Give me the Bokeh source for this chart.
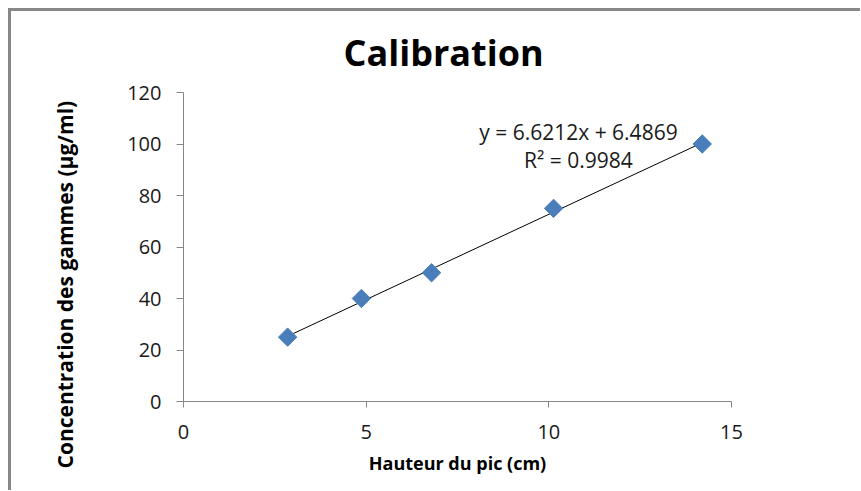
from bokeh.plotting import figure
from bokeh.models import Range1d, FixedTicker, Label, Title
from bokeh.embed import file_html
from bokeh.resources import INLINE

# Data
hauteur_cm = [2.85, 4.87, 6.79, 10.13, 14.2]
concentration = [25, 40, 50, 75, 100]
slope = 6.6212
intercept = 6.4869
equation_lines = ["y = 6.6212x + 6.4869", "R\u00b2 = 0.9984"]
x_ticks = [0, 5, 10, 15]
y_ticks = [0, 20, 40, 60, 80, 100, 120]

FONT = "Open Sans"

p = figure(width=860, height=490, output_backend="svg", toolbar_location=None,
           x_range=Range1d(0, 15), y_range=Range1d(0, 120),
           min_border_left=183, min_border_right=129,
           min_border_top=92, min_border_bottom=89)
p.styles = {
    "background": ("linear-gradient(#878787, #878787) 8px 8px / calc(100% - 8px) 3px no-repeat, "
                   "linear-gradient(#878787, #878787) 8px 8px / 3px calc(100% - 8px) no-repeat, "
                   "white"),
}
p.outline_line_color = None
p.xgrid.visible = False
p.ygrid.visible = False
p.background_fill_color = "white"
p.border_fill_color = None

for ax in (p.xaxis[0], p.yaxis[0]):
    ax.axis_line_color = "#868686"
    ax.major_tick_line_color = "#868686"
    ax.minor_tick_line_color = None
    ax.major_tick_in = 0
    ax.major_tick_out = 6
    ax.major_label_text_font = FONT
    ax.major_label_text_font_size = "20px"
    ax.major_label_text_color = "#1a1a1a"

p.xaxis[0].ticker = FixedTicker(ticks=x_ticks)
p.yaxis[0].ticker = FixedTicker(ticks=y_ticks)
p.yaxis[0].major_tick_out = 7
p.xaxis[0].major_label_standoff = 17
p.yaxis[0].major_label_standoff = 15

p.xaxis[0].axis_label = "Hauteur du pic (cm)"
p.xaxis[0].axis_label_text_font = FONT
p.xaxis[0].axis_label_text_font_style = "bold"
p.xaxis[0].axis_label_text_font_size = "18px"
p.xaxis[0].axis_label_text_color = "#000000"
p.xaxis[0].axis_label_standoff = 9

# Trend line
x0, x1 = min(hauteur_cm), max(hauteur_cm)
p.line([x0, x1], [slope * x0 + intercept, slope * x1 + intercept],
       line_color="#000000", line_width=1)

# Points
p.scatter(hauteur_cm, concentration, marker="square", size=13, angle=0.785398,
          fill_color="#4a7ebb", line_color="#4a7ebb")

# Equation
p.add_layout(Label(x=10.81, y=104.5, text=equation_lines[0], text_align="center",
                   text_baseline="middle", text_font=FONT, text_font_size="21px",
                   text_color="#1a1a1a"))
p.add_layout(Label(x=10.81, y=93.6, text=equation_lines[1], text_align="center",
                   text_baseline="middle", text_font=FONT, text_font_size="21px",
                   text_color="#1a1a1a"))

# Title
p.title = Title(text="Calibration", align="left", offset=160, standoff=32,
                text_font=FONT, text_font_style="bold", text_font_size="36px",
                text_color="#000000")

# Y axis title (as a side title so it can be shifted along the axis)
p.add_layout(Title(text="Concentration des gammes (\u00b5g/ml)", align="left", offset=-67,
                   standoff=92, text_font=FONT, text_font_style="bold",
                   text_font_size="21px", text_color="#000000"), "left")

open("out.html", "w").write(file_html(p, INLINE))
